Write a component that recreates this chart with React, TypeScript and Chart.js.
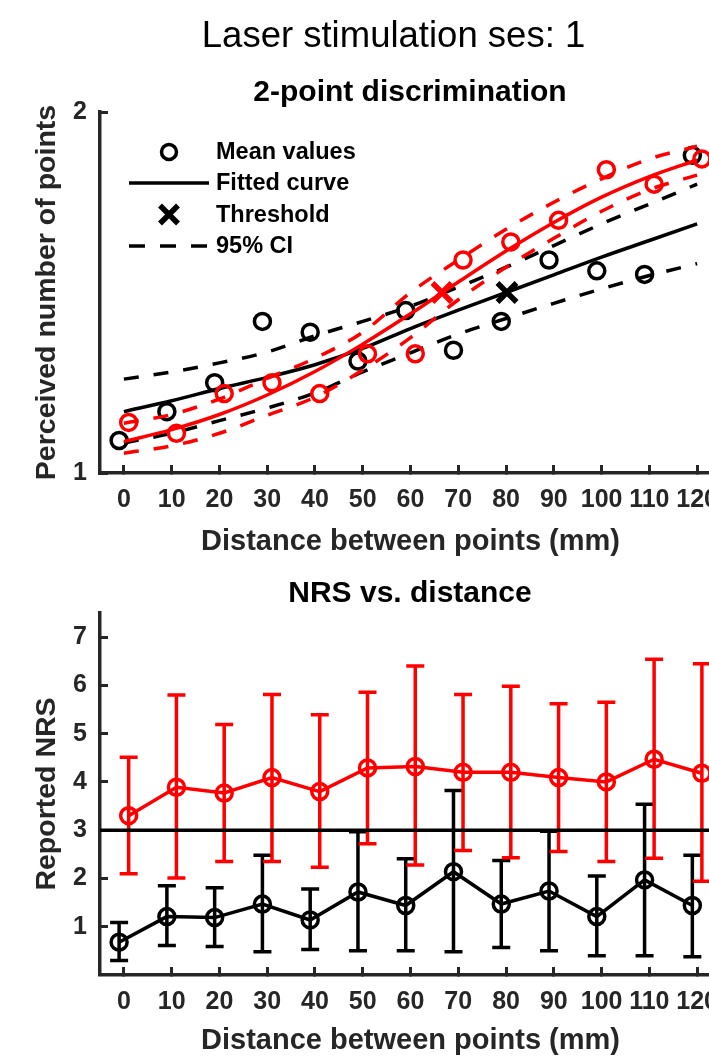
import React, { useEffect, useRef } from 'react';
import { Chart, registerables } from 'chart.js';

Chart.register(...registerables);

// ---------------- data ----------------
const distances = [0, 10, 20, 30, 40, 50, 60, 70, 80, 90, 100, 110, 120];
const xTicks = [0, 10, 20, 30, 40, 50, 60, 70, 80, 90, 100, 110, 120];
const perceivedTicks = [1, 2];
const nrsTicks = [1, 2, 3, 4, 5, 6, 7];

// 2-point discrimination: mean perceived number of points
const blackMean = [1.09, 1.17, 1.25, 1.42, 1.39, 1.31, 1.45, 1.34, 1.42, 1.59, 1.56, 1.55, 1.88];
const redMean = [1.14, 1.11, 1.22, 1.25, 1.22, 1.33, 1.33, 1.59, 1.64, 1.70, 1.84, 1.80, 1.87];

// fitted curves and 95% CI read at each distance
const blackFit = [1.17, 1.20, 1.234, 1.265, 1.30, 1.345, 1.40, 1.451, 1.50, 1.549, 1.598, 1.644, 1.69];
const blackCIUpper = [1.26, 1.28, 1.305, 1.335, 1.38, 1.42, 1.462, 1.515, 1.57, 1.63, 1.69, 1.745, 1.80];
const blackCILower = [1.083, 1.11, 1.145, 1.18, 1.222, 1.28, 1.333, 1.385, 1.428, 1.47, 1.51, 1.547, 1.58];
const redFit = [1.087, 1.12, 1.162, 1.216, 1.281, 1.357, 1.441, 1.529, 1.615, 1.694, 1.764, 1.821, 1.867];
const redCIUpper = [1.138, 1.162, 1.205, 1.262, 1.318, 1.39, 1.50, 1.59, 1.675, 1.75, 1.815, 1.87, 1.905];
const redCILower = [1.055, 1.075, 1.11, 1.16, 1.21, 1.285, 1.375, 1.48, 1.57, 1.65, 1.725, 1.785, 1.825];

// thresholds
const thresholdLevel = [1.5];
const blackThresholdDist = [80.2];
const redThresholdDist = [66.6];

// NRS vs distance
const redNRS = [3.30, 3.89, 3.77, 4.09, 3.80, 4.29, 4.32, 4.20, 4.20, 4.09, 4.00, 4.47, 4.18];
const redNRSHigh = [4.51, 5.80, 5.19, 5.81, 5.39, 5.86, 6.40, 5.81, 5.98, 5.62, 5.65, 6.54, 6.45];
const redNRSLow = [2.10, 2.01, 2.35, 2.35, 2.23, 2.72, 2.28, 2.58, 2.43, 2.56, 2.35, 2.42, 1.94];
const blackNRS = [0.68, 1.21, 1.19, 1.47, 1.14, 1.72, 1.44, 2.14, 1.47, 1.74, 1.21, 1.97, 1.44];
const blackNRSHigh = [1.09, 1.85, 1.81, 2.48, 1.78, 2.97, 2.41, 3.82, 2.37, 2.98, 2.05, 3.54, 2.48];
const blackNRSLow = [0.30, 0.61, 0.59, 0.48, 0.53, 0.50, 0.50, 0.48, 0.57, 0.50, 0.40, 0.40, 0.38];
const nrsReference = [3];

const legendLabels = ['Mean values', 'Fitted curve', 'Threshold', '95% CI'];

// ---------------- style ----------------
const FONT = "'Liberation Sans', Arial, Helvetica, sans-serif";
const AXIS = '#262626';
const RED = '#ff0000';
const BLACK = '#000000';
const BLACK_JITTER = -1;
const RED_JITTER = 1;
const LW = 3.5;

Chart.defaults.font.family = FONT;

const pts = (xs: number[], ys: number[], dx = 0) => xs.map((x, i) => ({ x: x + dx, y: ys[i] }));

const lineDs = (label: string, data: any[], color: string, dash: number[] = []) => ({
  label,
  data,
  borderColor: color,
  backgroundColor: color,
  borderWidth: LW,
  borderDash: dash,
  pointRadius: 0,
  pointHoverRadius: 0,
  cubicInterpolationMode: 'monotone',
  fill: false,
});

const markerDs = (label: string, data: any[], color: string, style: string, radius: number, bw: number) => ({
  label,
  data,
  showLine: false,
  borderColor: color,
  backgroundColor: 'rgba(0,0,0,0)',
  pointStyle: style,
  pointRadius: radius,
  pointHoverRadius: radius,
  pointBorderWidth: bw,
  pointHoverBorderWidth: bw,
  pointBorderColor: color,
  pointBackgroundColor: 'rgba(0,0,0,0)',
});

const xScale = (title: string, height: number, titlePad: number) => ({
  type: 'linear',
  min: -5,
  max: 125,
  afterBuildTicks: (s: any) => {
    s.ticks = xTicks.map((v) => ({ value: v }));
  },
  afterFit: (s: any) => {
    s.height = height;
  },
  grid: { drawOnChartArea: false, drawTicks: true, tickLength: -8, tickWidth: 3, tickColor: AXIS },
  border: { display: true, color: AXIS, width: 3.5 },
  ticks: {
    color: AXIS,
    font: { family: FONT, size: 25, weight: 'bold' },
    padding: 20,
    maxRotation: 0,
    autoSkip: false,
    callback: (v: any) => String(v),
  },
  title: {
    display: true,
    text: title,
    color: AXIS,
    font: { family: FONT, size: 29, weight: 'bold' },
    padding: { top: 0, bottom: titlePad },
  },
});

const yScale = (title: string, min: number, max: number, ticks: number[]) => ({
  type: 'linear',
  min,
  max,
  afterBuildTicks: (s: any) => {
    s.ticks = ticks.map((v) => ({ value: v }));
  },
  afterFit: (s: any) => {
    s.width = 100;
  },
  grid: { drawOnChartArea: false, drawTicks: true, tickLength: -8, tickWidth: 3, tickColor: AXIS },
  border: { display: true, color: AXIS, width: 3.5 },
  ticks: {
    color: AXIS,
    font: { family: FONT, size: 25, weight: 'bold' },
    padding: 21,
    autoSkip: false,
    callback: (v: any) => String(v),
  },
  title: {
    display: true,
    text: title,
    color: AXIS,
    font: { family: FONT, size: 28.5, weight: 'bold' },
    padding: { top: 30, bottom: 0 },
  },
});

const legendPlugin = {
  id: 'tpLegend',
  afterDraw(chart: any) {
    const { ctx, chartArea } = chart;
    const L = chartArea.left;
    const T = chartArea.top;
    const rows = [40, 71, 102.5, 134];
    ctx.save();
    ctx.strokeStyle = BLACK;
    ctx.fillStyle = BLACK;
    ctx.lineWidth = LW;
    // circle
    ctx.beginPath();
    ctx.arc(L + 69, T + rows[0], 7.5, 0, Math.PI * 2);
    ctx.stroke();
    // line
    ctx.beginPath();
    ctx.moveTo(L + 29, T + rows[1]);
    ctx.lineTo(L + 109, T + rows[1]);
    ctx.stroke();
    // cross
    ctx.lineWidth = 5.5;
    const d = 9;
    ctx.beginPath();
    ctx.moveTo(L + 69 - d, T + rows[2] - d);
    ctx.lineTo(L + 69 + d, T + rows[2] + d);
    ctx.moveTo(L + 69 + d, T + rows[2] - d);
    ctx.lineTo(L + 69 - d, T + rows[2] + d);
    ctx.stroke();
    // dashed
    ctx.lineWidth = LW;
    ctx.setLineDash([16, 15]);
    ctx.beginPath();
    ctx.moveTo(L + 29, T + rows[3]);
    ctx.lineTo(L + 109, T + rows[3]);
    ctx.stroke();
    ctx.setLineDash([]);
    ctx.font = `bold 23.5px ${FONT}`;
    ctx.textBaseline = 'middle';
    ctx.textAlign = 'left';
    legendLabels.forEach((t, i) => ctx.fillText(t, L + 116, T + rows[i] + 1));
    ctx.restore();
  },
};

const errorBarPlugin = {
  id: 'errorBars',
  afterDatasetDraw(chart: any, args: any) {
    const ds = chart.data.datasets[args.index];
    const eb = ds.errorBars;
    if (!eb) return;
    const { ctx } = chart;
    const xs = chart.scales.x;
    const ys = chart.scales.y;
    ctx.save();
    ctx.strokeStyle = ds.borderColor;
    ctx.lineWidth = LW;
    ds.data.forEach((p: any, i: number) => {
      const px = xs.getPixelForValue(p.x);
      const top = ys.getPixelForValue(eb.high[i]);
      const bot = ys.getPixelForValue(eb.low[i]);
      ctx.beginPath();
      ctx.moveTo(px, top);
      ctx.lineTo(px, bot);
      ctx.moveTo(px - 9, top);
      ctx.lineTo(px + 9, top);
      ctx.moveTo(px - 9, bot);
      ctx.lineTo(px + 9, bot);
      ctx.stroke();
    });
    ctx.restore();
  },
};

const refLinePlugin = {
  id: 'refLine',
  afterDatasetsDraw(chart: any) {
    const { ctx, chartArea } = chart;
    const ys = chart.scales.y;
    ctx.save();
    ctx.strokeStyle = BLACK;
    ctx.lineWidth = LW;
    nrsReference.forEach((v) => {
      const y = ys.getPixelForValue(v);
      ctx.beginPath();
      ctx.moveTo(chartArea.left, y);
      ctx.lineTo(chartArea.right, y);
      ctx.stroke();
    });
    ctx.restore();
  },
};

const commonOptions = {
  responsive: false,
  maintainAspectRatio: false,
  animation: false,
  devicePixelRatio: 1,
  events: [],
  plugins: { legend: { display: false }, tooltip: { enabled: false }, title: { display: false } },
};

function topConfig(): any {
  return {
    type: 'line',
    data: {
      datasets: [
        markerDs('Red threshold', pts(redThresholdDist, thresholdLevel), RED, 'crossRot', 13.5, 5.5),
        markerDs('Red mean', pts(distances, redMean, RED_JITTER), RED, 'circle', 8, LW),
        lineDs('Red fit', pts(distances, redFit), RED),
        lineDs('Red CI upper', pts(distances, redCIUpper), RED, [15, 15]),
        lineDs('Red CI lower', pts(distances, redCILower), RED, [15, 15]),
        markerDs('Black threshold', pts(blackThresholdDist, thresholdLevel), BLACK, 'crossRot', 13.5, 5.5),
        markerDs('Black mean', pts(distances, blackMean, BLACK_JITTER), BLACK, 'circle', 8, LW),
        lineDs('Black fit', pts(distances, blackFit), BLACK),
        lineDs('Black CI upper', pts(distances, blackCIUpper), BLACK, [15, 15]),
        lineDs('Black CI lower', pts(distances, blackCILower), BLACK, [15, 15]),
      ],
    },
    options: {
      ...commonOptions,
      layout: { padding: { left: 0, top: 112, right: 19, bottom: 0 } },
      scales: {
        x: xScale('Distance between points (mm)', 87, 0.6),
        y: yScale('Perceived number of points', 1, 2, perceivedTicks),
      },
    },
    plugins: [legendPlugin],
  };
}

function bottomConfig(): any {
  const red: any = {
    ...markerDs('Red NRS', pts(distances, redNRS, RED_JITTER), RED, 'circle', 8, LW),
    showLine: true,
    borderWidth: LW,
    tension: 0,
    errorBars: { high: redNRSHigh, low: redNRSLow },
  };
  const black: any = {
    ...markerDs('Black NRS', pts(distances, blackNRS, BLACK_JITTER), BLACK, 'circle', 8, LW),
    showLine: true,
    borderWidth: LW,
    tension: 0,
    errorBars: { high: blackNRSHigh, low: blackNRSLow },
  };
  return {
    type: 'line',
    data: { datasets: [red, black] },
    options: {
      ...commonOptions,
      layout: { padding: { left: 0, top: 53, right: 19, bottom: 0 } },
      scales: {
        x: xScale('Distance between points (mm)', 83, 0),
        y: yScale('Reported NRS', 0, 7.5, nrsTicks),
      },
    },
    plugins: [errorBarPlugin, refLinePlugin],
  };
}

const subTitleStyle: any = {
  position: 'absolute',
  left: 0,
  width: 820,
  textAlign: 'center',
  fontSize: 30,
  lineHeight: '34px',
  fontWeight: 'bold',
  color: '#000',
  whiteSpace: 'nowrap',
};

export default function App() {
  const topRef = useRef<HTMLCanvasElement>(null);
  const botRef = useRef<HTMLCanvasElement>(null);

  useEffect(() => {
    const c1 = new Chart(topRef.current as HTMLCanvasElement, topConfig());
    const c2 = new Chart(botRef.current as HTMLCanvasElement, bottomConfig());
    return () => {
      c1.destroy();
      c2.destroy();
    };
  }, []);

  return (
    <div
      style={{
        position: 'absolute',
        left: 0,
        top: 0,
        width: 709,
        height: 1058,
        overflow: 'hidden',
        background: '#ffffff',
        fontFamily: FONT,
      }}
    >
      <canvas ref={topRef} width={740} height={560} style={{ position: 'absolute', left: 0, top: 0, width: 740, height: 560 }} />
      <canvas ref={botRef} width={740} height={498} style={{ position: 'absolute', left: 0, top: 560, width: 740, height: 498 }} />
      <div
        style={{
          position: 'absolute',
          left: 0,
          top: 14,
          width: 787,
          textAlign: 'center',
          fontSize: 36.5,
          lineHeight: '42px',
          fontWeight: 'normal',
          color: '#000',
          whiteSpace: 'nowrap',
        }}
      >
        Laser stimulation ses: 1
      </div>
      <div style={{ ...subTitleStyle, top: 74 }}>2-point discrimination</div>
      <div style={{ ...subTitleStyle, top: 575 }}>NRS vs. distance</div>
    </div>
  );
}
